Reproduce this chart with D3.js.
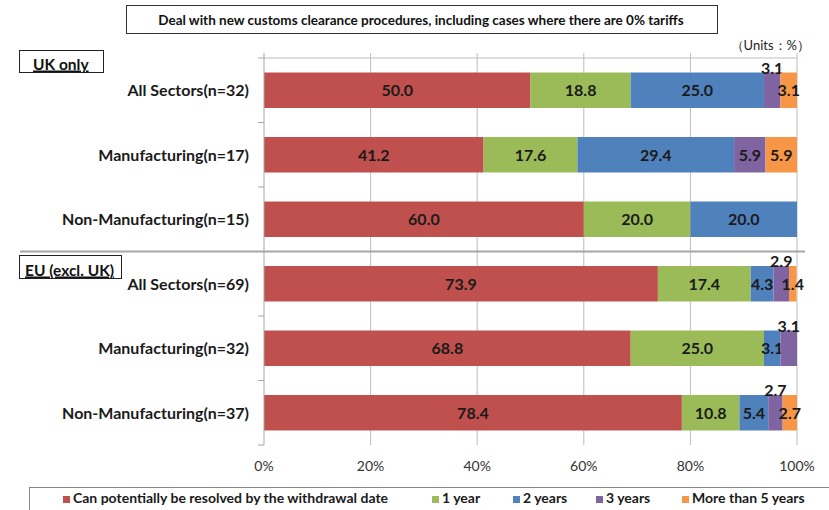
<!DOCTYPE html>
<html>
<head>
<meta charset="utf-8">
<script src="https://cdn.jsdelivr.net/npm/d3@7"></script>
<style>
  body { margin: 0; background: white; }
  text { font-family: Lato, "Open Sans", sans-serif; }
</style>
</head>
<body>
<div id="viz-container"></div>
<script>
let svgWidth = 829;
let svgHeight = 510;

// data
let categories = ["UK All Sectors", "UK Manufacturing", "UK Non-Manufacturing",
                  "EU All Sectors", "EU Manufacturing", "EU Non-Manufacturing"];
let categoryLabels = ["All Sectors(n=32)", "Manufacturing(n=17)", "Non-Manufacturing(n=15)",
                      "All Sectors(n=69)", "Manufacturing(n=32)", "Non-Manufacturing(n=37)"];
let seriesNames = ["Can potentially be resolved by the withdrawal date", "1 year", "2 years", "3 years", "More than 5 years"];
let resolved = [50.0, 41.2, 60.0, 73.9, 68.8, 78.4];
let oneYear = [18.8, 17.6, 20.0, 17.4, 25.0, 10.8];
let twoYears = [25.0, 29.4, 20.0, 4.3, 3.1, 5.4];
let threeYears = [3.1, 5.9, 0, 2.9, 3.1, 2.7];
let moreThan5 = [3.1, 5.9, 0, 1.4, 0, 2.7];
let tickValues = [0, 20, 40, 60, 80, 100];
let groupLabels = ["UK only", "EU (excl. UK)"];

let colors = ["#C0504D", "#9BBB59", "#4F81BD", "#8064A2", "#F79646"];

let viz = d3.select("#viz-container")
  .append("svg")
    .attr("width", svgWidth)
    .attr("height", svgHeight)
    .style("display", "block");

let x = d3.scaleLinear().domain([0, 100]).range([264, 797]);
let y = d3.scaleBand().domain(categories).range([58, 445]).paddingInner(0.45).paddingOuter(0.225);

// build stacked rows
let allSeries = [resolved, oneYear, twoYears, threeYears, moreThan5];
let rows = categories.map(function(c, i){
  let row = {cat: c};
  seriesNames.forEach(function(s, j){ row[s] = allSeries[j][i]; });
  return row;
});
let stacked = d3.stack().keys(seriesNames)(rows);

// title box
viz.append("rect")
  .attr("x", 126.5).attr("y", 5.5).attr("width", 591).attr("height", 28)
  .attr("fill", "white").attr("stroke", "#333").attr("stroke-width", 1);
viz.append("text")
  .attr("x", 421).attr("y", 24.5)
  .attr("text-anchor", "middle")
  .attr("font-size", 13.5).attr("font-weight", "bold").attr("fill", "#111")
  .text("Deal with new customs clearance procedures, including cases where there are 0% tariffs");

viz.append("text")
  .attr("x", 810).attr("y", 50)
  .attr("text-anchor", "end")
  .attr("font-size", 13).attr("fill", "#222")
  .text("（Units：%）");

// gridlines
let step = y.step();
let plotTop = y.range()[0];
let plotBottom = y.range()[1];
viz.selectAll(".grid").data(tickValues.slice(1)).enter()
  .append("line")
    .attr("class", "grid")
    .attr("x1", d => x(d)).attr("x2", d => x(d))
    .attr("y1", plotTop - 5).attr("y2", plotBottom)
    .attr("stroke", "#BDBDBD").attr("stroke-width", 1);

// top line
viz.append("line")
  .attr("x1", x(0)).attr("x2", x(100))
  .attr("y1", plotTop).attr("y2", plotTop)
  .attr("stroke", "#BDBDBD");

// separator between UK and EU
let sepY = y(categories[3]) - step * 0.225;
viz.append("line")
  .attr("x1", 20).attr("x2", 805)
  .attr("y1", sepY).attr("y2", sepY)
  .attr("stroke", "#A6A6A6").attr("stroke-width", 2);

// bars
let layers = viz.selectAll(".layer").data(stacked).enter()
  .append("g")
    .attr("class", "layer")
    .attr("fill", (d, i) => colors[i]);

layers.selectAll("rect").data(d => d).enter()
  .append("rect")
    .attr("x", d => x(d[0]))
    .attr("y", d => y(d.data.cat))
    .attr("width", d => x(d[1]) - x(d[0]))
    .attr("height", y.bandwidth());

// value labels (small "3 years" values sit on top of the bar)
layers.each(function(layer, li){
  d3.select(this).selectAll("text").data(layer.filter(d => d[1] - d[0] > 0)).enter()
    .append("text")
      .attr("x", d => (x(d[0]) + x(d[1])) / 2)
      .attr("y", function(d){
        let v = d[1] - d[0];
        let cy = y(d.data.cat) + y.bandwidth() / 2;
        if (li == 3 && v < 4) return y(d.data.cat) + 1;
        return cy + 6;
      })
      .attr("text-anchor", "middle")
      .attr("font-size", 16).attr("font-weight", "bold").attr("fill", "#1a1a1a")
      .text(d => d3.format(".1f")(d[1] - d[0]));
});

// left axis line with category ticks
viz.append("line")
  .attr("x1", x(0)).attr("x2", x(0))
  .attr("y1", plotTop - 5).attr("y2", plotBottom)
  .attr("stroke", "#A6A6A6");
let bounds = d3.range(categories.length + 1).map(i => plotTop + i * step);
viz.selectAll(".ctick").data(bounds).enter()
  .append("line")
    .attr("class", "ctick")
    .attr("x1", x(0) - 6).attr("x2", x(0))
    .attr("y1", d => d).attr("y2", d => d)
    .attr("stroke", "#A6A6A6");

// category labels
viz.selectAll(".catLabel").data(categories).enter()
  .append("text")
    .attr("class", "catLabel")
    .attr("x", 249)
    .attr("y", d => y(d) + y.bandwidth() / 2 + 6)
    .attr("text-anchor", "end")
    .attr("font-size", 16).attr("font-weight", "bold").attr("fill", "#1a1a1a")
    .text((d, i) => categoryLabels[i]);

// group boxes
let groupBoxes = [{x: 19.5, y: 50.5, w: 84, h: 22, tx: 33}, {x: 19.5, y: 255.5, w: 102, h: 23, tx: 25}];
groupLabels.forEach(function(g, i){
  let b = groupBoxes[i];
  viz.append("rect")
    .attr("x", b.x).attr("y", b.y).attr("width", b.w).attr("height", b.h)
    .attr("fill", "white").attr("stroke", "#222");
  viz.append("text")
    .attr("x", b.tx).attr("y", b.y + b.h - 3)
    .attr("font-size", 15.5).attr("font-weight", "bold").attr("fill", "#111")
    .attr("text-decoration", "underline")
    .text(g);
});

// x tick labels
viz.selectAll(".xtick").data(tickValues).enter()
  .append("text")
    .attr("class", "xtick")
    .attr("x", d => x(d))
    .attr("y", 471)
    .attr("text-anchor", "middle")
    .attr("font-size", 14).attr("fill", "#333")
    .text(d => d + "%");

// legend
viz.append("rect")
  .attr("x", 29.5).attr("y", 487.5).attr("width", 810).attr("height", 40)
  .attr("fill", "white").attr("stroke", "#888");
let legendX = [63, 432, 513, 596, 682];
seriesNames.forEach(function(s, i){
  viz.append("rect")
    .attr("x", legendX[i]).attr("y", 496).attr("width", 7).attr("height", 7)
    .attr("fill", colors[i]);
  viz.append("text")
    .attr("x", legendX[i] + 10).attr("y", 503)
    .attr("font-size", 14).attr("font-weight", "bold").attr("fill", "#1a1a1a")
    .text(s);
});
</script>
</body>
</html>
